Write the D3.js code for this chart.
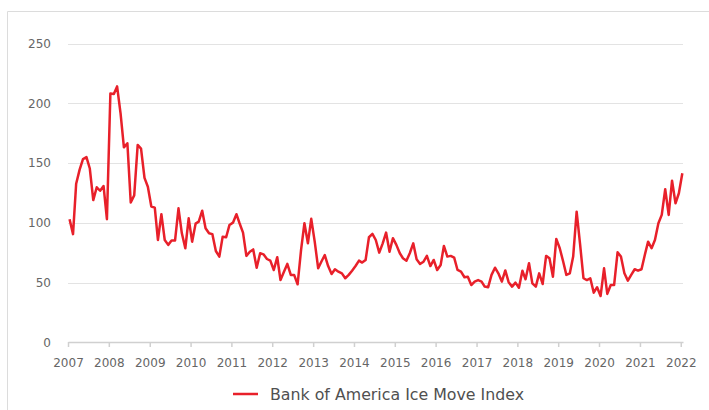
<!DOCTYPE html>
<html>
<head>
<meta charset="utf-8">
<script src="https://cdn.jsdelivr.net/npm/d3@7"></script>
<style>
  body { margin: 0; background: #fff; }
  svg { display: block; font-family: "DejaVu Sans", sans-serif; }
</style>
</head>
<body>
<svg width="709" height="410"></svg>
<script>
// monthly readings, Jan 2007 .. Jan 2022
var startMonth = "2007-01";
var moveValues = [
  103.0, 90.5, 132.7, 144.5, 153.3, 154.9, 145.4, 119.0, 129.7, 126.8, 130.7, 103.0,
  208.2, 207.8, 214.1, 191.5, 163.1, 166.5, 117.0, 122.9, 165.1, 162.1, 137.6, 130.2,
  113.6, 112.7, 85.6, 107.2, 85.6, 81.5, 85.1, 85.1, 112.1, 91.2, 78.7, 103.7,
  84.2, 99.3, 101.0, 110.1, 95.4, 91.2, 90.5, 76.4, 71.7, 88.4, 87.9, 98.2,
  100.1, 107.2, 99.6, 91.8, 72.3, 75.8, 77.7, 62.4, 74.5, 73.6, 69.7, 68.3,
  60.5, 71.2, 52.1, 59.1, 65.6, 56.4, 56.4, 48.5, 77.3, 99.6, 82.8, 103.3,
  84.2, 61.9, 67.4, 73.0, 63.8, 57.1, 61.1, 59.1, 57.7, 53.6, 56.4, 59.9,
  63.8, 68.3, 66.7, 68.9, 87.9, 90.7, 85.6, 75.0, 82.8, 91.8, 75.8, 87.1,
  81.5, 74.5, 70.3, 68.3, 74.5, 82.8, 69.5, 65.6, 67.4, 72.3, 63.8, 68.9,
  60.5, 64.7, 80.6, 71.7, 72.3, 70.8, 60.5, 59.1, 54.4, 54.9, 47.9, 50.8,
  52.1, 50.8, 46.6, 46.1, 56.4, 62.4, 57.7, 50.8, 60.1, 50.3, 46.6, 49.9,
  45.7, 59.9, 52.7, 66.2, 49.3, 46.6, 57.7, 48.8, 72.3, 70.3, 54.9, 86.5,
  78.7, 67.4, 56.4, 57.7, 71.7, 109.3, 82.8, 53.6, 52.1, 53.6, 41.5, 46.1,
  38.7, 61.9, 40.5, 47.9, 47.9, 75.3, 71.7, 57.7, 51.6, 56.4, 61.1, 59.9,
  61.1, 73.6, 84.2, 78.7, 85.6, 99.6, 106.6, 128.1, 106.6, 135.2, 116.3, 124.7,
  141.4
];
var yTicks = [0, 50, 100, 150, 200, 250];
var seriesName = "Bank of America Ice Move Index";

var parseMonth = d3.timeParse("%Y-%m");
var first = parseMonth(startMonth);
var data = moveValues.map(function(v, i) {
  // points sit mid-month
  return { date: d3.timeDay.offset(d3.timeMonth.offset(first, i), 14), value: v };
});

var svg = d3.select("svg");

// outer frame (left and top edges only are visible)
svg.append("path")
  .attr("d", "M7.5,410V11.5H709")
  .attr("fill", "none")
  .attr("stroke", "#dcdcdc");

var x = d3.scaleTime()
  .domain([new Date(2007, 0, 1), new Date(2022, 0, 21)])
  .range([68, 683]);

var y = d3.scaleLinear()
  .domain([0, 250])
  .range([342.3, 43.5]);

// grid
svg.append("g")
  .selectAll("line")
  .data(yTicks.filter(function(d) { return d > 0; }))
  .enter().append("line")
  .attr("x1", x.range()[0])
  .attr("x2", x.range()[1])
  .attr("y1", function(d) { return Math.round(y(d)) + 0.5; })
  .attr("y2", function(d) { return Math.round(y(d)) + 0.5; })
  .attr("stroke", "#e3e3e3");

// y labels
svg.append("g")
  .selectAll("text")
  .data(yTicks)
  .enter().append("text")
  .attr("x", 51)
  .attr("y", function(d) { return y(d); })
  .attr("dy", "0.36em")
  .attr("text-anchor", "end")
  .attr("font-size", 12)
  .attr("fill", "#666")
  .text(function(d) { return d; });

// x axis
var xAxis = svg.append("g")
  .attr("transform", "translate(0," + Math.round(y(0)) + ")")
  .call(d3.axisBottom(x)
    .ticks(d3.timeYear.every(1))
    .tickFormat(d3.timeFormat("%Y"))
    .tickSizeInner(5)
    .tickSizeOuter(0)
    .tickPadding(11));

xAxis.select(".domain").attr("stroke", "#d0d0d0").attr("stroke-width", 1.5);
xAxis.selectAll(".tick line").attr("stroke", "#d0d0d0").attr("stroke-width", 1.5);
xAxis.selectAll(".tick text")
  .attr("font-size", 12)
  .attr("font-family", "DejaVu Sans, sans-serif")
  .attr("fill", "#666");

// series
var line = d3.line()
  .x(function(d) { return x(d.date); })
  .y(function(d) { return y(d.value); });

svg.append("path")
  .datum(data)
  .attr("fill", "none")
  .attr("stroke", "#e8202a")
  .attr("stroke-width", 2.5)
  .attr("stroke-linejoin", "round")
  .attr("d", line);

// legend
var legend = svg.append("g").attr("transform", "translate(233,394)");
legend.append("line")
  .attr("x1", 0)
  .attr("x2", 25)
  .attr("stroke", "#e8202a")
  .attr("stroke-width", 2.5);
legend.append("text")
  .attr("x", 37)
  .attr("dy", "0.36em")
  .attr("font-size", 15.8)
  .attr("fill", "#505050")
  .text(seriesName);
</script>
</body>
</html>
